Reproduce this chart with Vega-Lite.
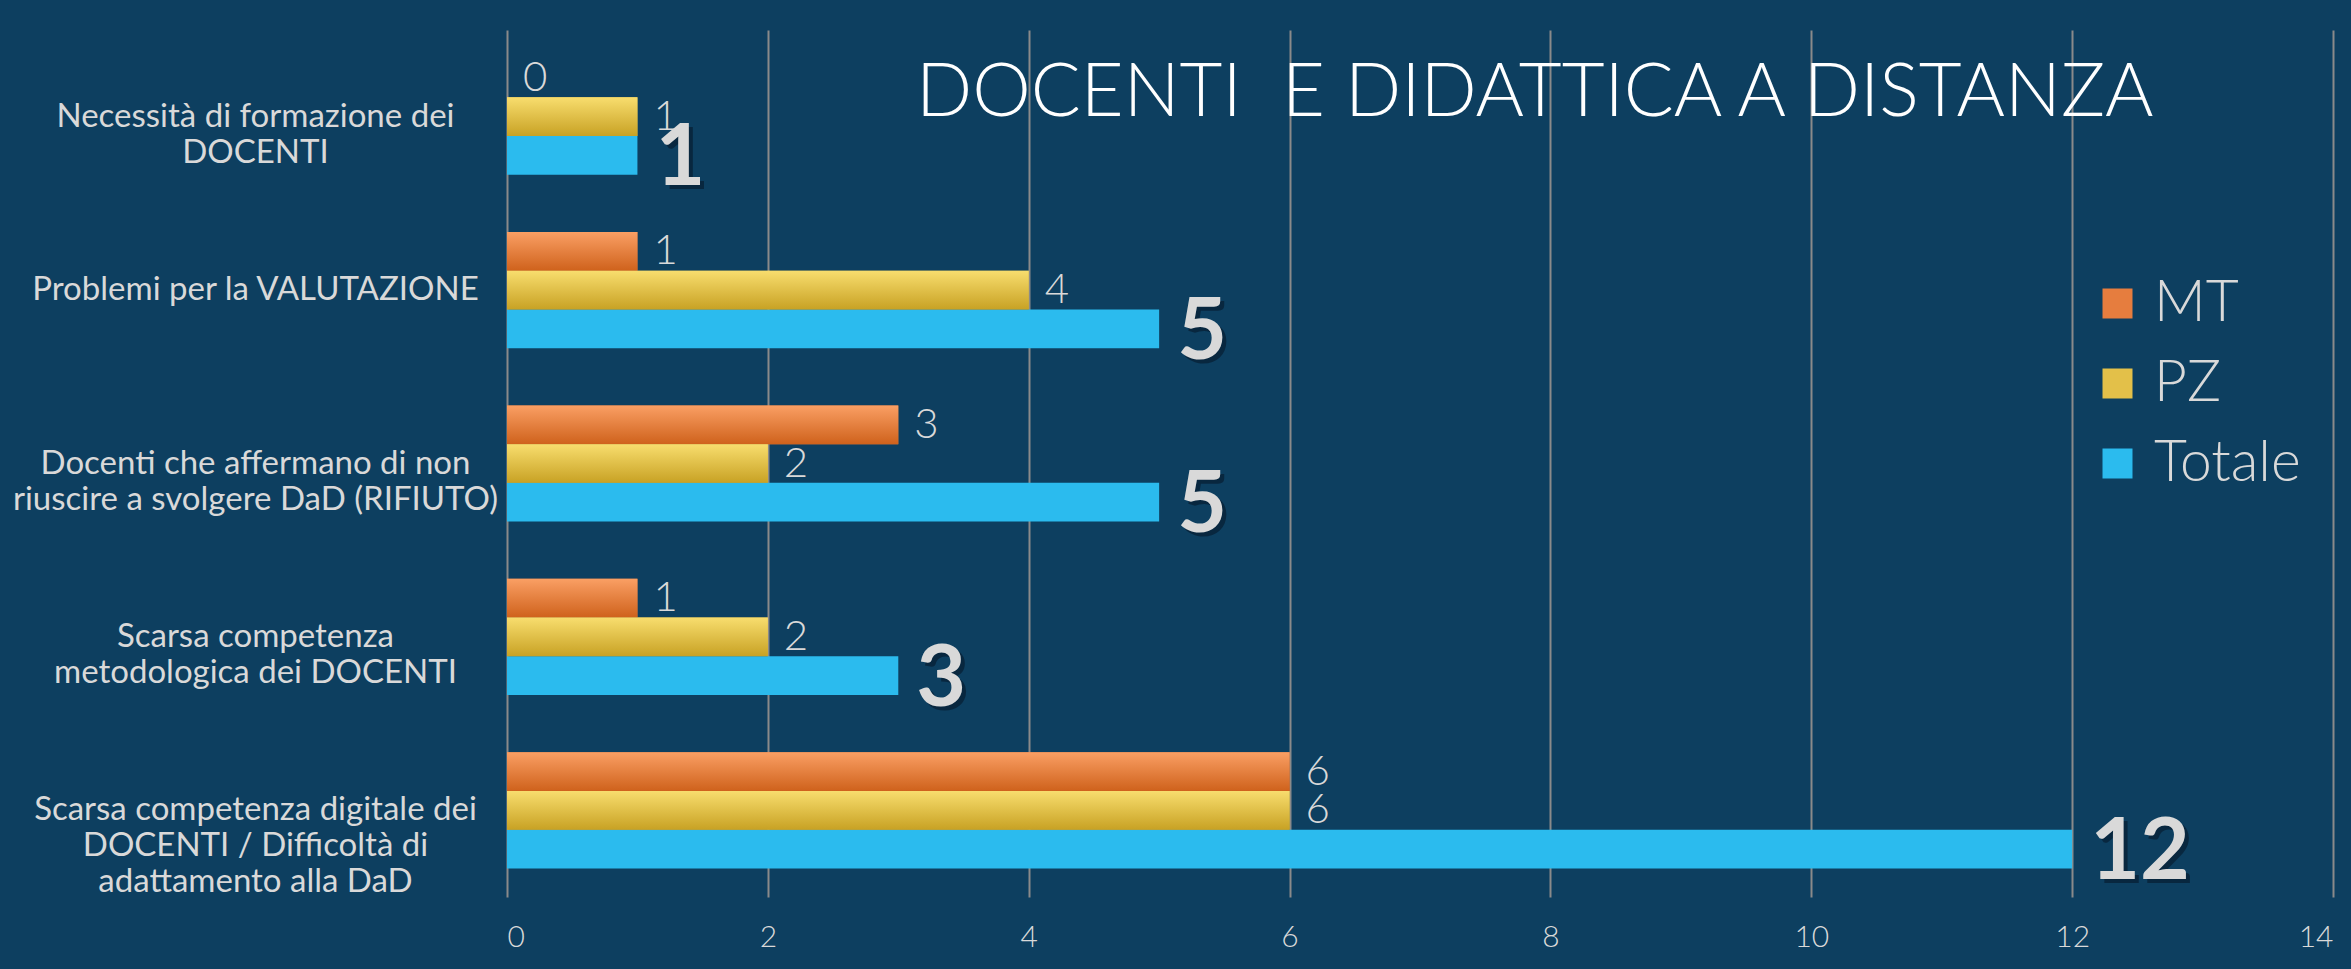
{
  "$schema": "https://vega.github.io/schema/vega-lite/v6.json",
  "autosize": {"type": "none"},
  "padding": {"left": 507, "top": 30, "right": 18, "bottom": 72},
  "width": 1826,
  "height": 867,
  "background": "#0d3f60",
  "title": {
    "text": "DOCENTI\u00a0 E DIDATTICA A DISTANZA",
    "anchor": "start",
    "frame": "group",
    "orient": "top",
    "offset": -160,
    "baseline": "alphabetic",
    "dx": 409,
    "font": "Lato",
    "fontWeight": 300,
    "fontSize": 74,
    "color": "#ffffff"
  },
  "data": {
    "values": [
      {"cat": "Necessità di formazione dei|DOCENTI", "series": "MT", "value": 0},
      {"cat": "Necessità di formazione dei|DOCENTI", "series": "PZ", "value": 1},
      {"cat": "Necessità di formazione dei|DOCENTI", "series": "Totale", "value": 1},
      {"cat": "Problemi per la VALUTAZIONE", "series": "MT", "value": 1},
      {"cat": "Problemi per la VALUTAZIONE", "series": "PZ", "value": 4},
      {"cat": "Problemi per la VALUTAZIONE", "series": "Totale", "value": 5},
      {"cat": "Docenti che affermano di non|riuscire a svolgere DaD (RIFIUTO)", "series": "MT", "value": 3},
      {"cat": "Docenti che affermano di non|riuscire a svolgere DaD (RIFIUTO)", "series": "PZ", "value": 2},
      {"cat": "Docenti che affermano di non|riuscire a svolgere DaD (RIFIUTO)", "series": "Totale", "value": 5},
      {"cat": "Scarsa competenza|metodologica dei DOCENTI", "series": "MT", "value": 1},
      {"cat": "Scarsa competenza|metodologica dei DOCENTI", "series": "PZ", "value": 2},
      {"cat": "Scarsa competenza|metodologica dei DOCENTI", "series": "Totale", "value": 3},
      {"cat": "Scarsa competenza digitale dei|DOCENTI / Difficoltà di|adattamento alla DaD", "series": "MT", "value": 6},
      {"cat": "Scarsa competenza digitale dei|DOCENTI / Difficoltà di|adattamento alla DaD", "series": "PZ", "value": 6},
      {"cat": "Scarsa competenza digitale dei|DOCENTI / Difficoltà di|adattamento alla DaD", "series": "Totale", "value": 12}
    ]
  },
  "encoding": {
    "y": {
      "field": "cat",
      "type": "nominal",
      "sort": null,
      "scale": {"paddingInner": 0.33, "paddingOuter": 0.165},
      "axis": {
        "title": null,
        "domain": false,
        "ticks": false,
        "labelAlign": "center",
        "labelBaseline": "middle",
        "labelPadding": 252,
        "labelLimit": 700,
        "labelFont": "Lato",
        "labelFontSize": 33,
        "labelLineHeight": 36,
        "labelColor": "#d9d9d9",
        "labelExpr": "split(datum.label, '|')"
      }
    },
    "yOffset": {"field": "series", "type": "nominal", "sort": ["MT", "PZ", "Totale"]},
    "x": {
      "field": "value",
      "type": "quantitative",
      "scale": {"domain": [0, 14], "nice": false},
      "axis": {
        "title": null,
        "values": [0, 2, 4, 6, 8, 10, 12, 14],
        "domain": false,
        "ticks": false,
        "grid": true,
        "gridColor": "#8a8a8a",
        "gridWidth": 2,
        "labelFont": "Lato",
        "labelFontWeight": 300,
        "labelFontSize": 30,
        "labelColor": "#d9d9d9",
        "labelPadding": 25
      }
    }
  },
  "layer": [
    {
      "mark": {"type": "bar", "cornerRadius": 0},
      "encoding": {
        "color": {
          "field": "series",
          "type": "nominal",
          "sort": ["MT", "PZ", "Totale"],
          "scale": {"domain": ["MT", "PZ", "Totale"], "range": ["#e67d3e", "#e3c049", "#2bbbee"]},
          "legend": {
            "title": null,
            "orient": "none",
            "legendX": 1582,
            "legendY": 245,
            "symbolType": "square",
            "symbolSize": 900,
            "symbolStrokeWidth": 0,
            "labelFont": "Lato",
            "labelFontWeight": 300,
            "labelFontSize": 57,
            "labelColor": "#d9d9d9",
            "labelOffset": 8,
            "rowPadding": 22
          }
        }
      }
    },
    {
      "transform": [{"filter": "datum.series == 'MT'"}],
      "mark": {
        "type": "bar",
        "color": {"gradient": "linear", "x1": 0, "y1": 0, "x2": 0, "y2": 1,
          "stops": [{"offset": 0, "color": "#fa9f64"}, {"offset": 1, "color": "#cf621c"}]}
      }
    },
    {
      "transform": [{"filter": "datum.series == 'PZ'"}],
      "mark": {
        "type": "bar",
        "color": {"gradient": "linear", "x1": 0, "y1": 0, "x2": 0, "y2": 1,
          "stops": [{"offset": 0, "color": "#f8dd6e"}, {"offset": 1, "color": "#c8a224"}]}
      }
    },
    {
      "transform": [{"filter": "datum.series != 'Totale'"}],
      "mark": {"type": "text", "align": "left", "baseline": "middle", "dx": 16, "font": "Lato", "fontWeight": 300, "fontSize": 42, "color": "#d9d9d9"},
      "encoding": {"text": {"field": "value", "type": "quantitative"}}
    },
    {
      "transform": [{"filter": "datum.series == 'Totale'"}],
      "mark": {"type": "text", "align": "left", "baseline": "middle", "dx": 22, "dy": 8, "font": "Lato", "fontWeight": "bold", "fontSize": 86, "color": "#06182a", "opacity": 0.6},
      "encoding": {"text": {"field": "value", "type": "quantitative"}}
    },
    {
      "transform": [{"filter": "datum.series == 'Totale'"}],
      "mark": {"type": "text", "align": "left", "baseline": "middle", "dx": 18, "dy": 4, "font": "Lato", "fontWeight": "bold", "fontSize": 86, "color": "#d9d9d9"},
      "encoding": {"text": {"field": "value", "type": "quantitative"}}
    }
  ],
  "config": {"view": {"stroke": null}}
}
